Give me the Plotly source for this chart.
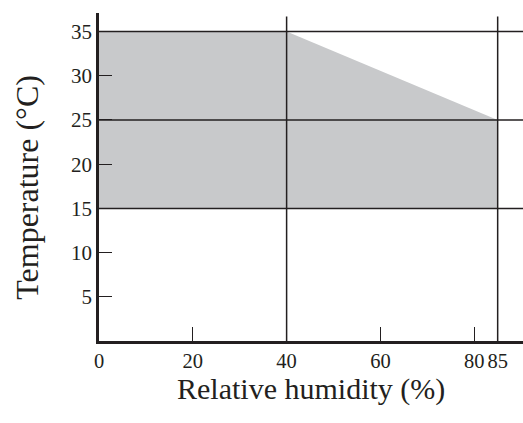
import plotly.graph_objects as go

# Data
region_humidity = [0, 0, 40, 85, 85, 0]
region_temp = [15, 35, 35, 25, 15, 15]
h_lines_temp = [15, 25, 35]
v_lines_humidity = [40, 85]
x_ticks = [0, 20, 40, 60, 80, 85]
y_ticks = [5, 10, 15, 20, 25, 30, 35]

INK = "#231f20"
FILL = "#c8c9cb"
FONT = "Liberation Serif"

fig = go.Figure()
fig.add_trace(go.Scatter(x=region_humidity, y=region_temp, fill="toself",
                         fillcolor=FILL, line=dict(width=0), mode="lines",
                         hoverinfo="skip", showlegend=False))

for t in h_lines_temp:
    fig.add_shape(type="line", xref="paper", x0=0, x1=1, yref="y", y0=t, y1=t,
                  line=dict(color=INK, width=1.5), layer="above")
for h in v_lines_humidity:
    fig.add_shape(type="line", xref="x", x0=h, x1=h, yref="y", y0=0, y1=36.7,
                  line=dict(color=INK, width=1.5), layer="above")

fig.update_layout(
    width=523, height=423,
    margin=dict(l=99, r=0, t=13, b=82),
    paper_bgcolor="white", plot_bgcolor="white",
    font=dict(family=FONT, color=INK, size=21),
    xaxis=dict(range=[0, 90.4], tickvals=x_ticks, ticktext=[str(v) for v in x_ticks],
               showgrid=False, zeroline=False, showline=True, linecolor=INK, linewidth=2.5,
               ticks="inside", ticklen=14, tickwidth=1.2, tickcolor=INK,
               tickfont=dict(family=FONT, size=20.5, color=INK)),
    yaxis=dict(range=[0, 37.1], tickvals=y_ticks, ticktext=[str(v) for v in y_ticks],
               showgrid=False, zeroline=False, showline=True, linecolor=INK, linewidth=2.5,
               ticks="inside", ticklen=13, tickwidth=1.2, tickcolor=INK,
               tickfont=dict(family=FONT, size=21, color=INK)),
    annotations=[
        dict(text="Relative humidity (%)", xref="paper", yref="paper", x=0.5, y=-0.147,
             showarrow=False, font=dict(family=FONT, size=30, color=INK),
             xanchor="center", yanchor="middle"),
        dict(text="Temperature (°C)", xref="paper", yref="paper", x=-0.17, y=0.47,
             showarrow=False, textangle=-90, font=dict(family=FONT, size=32, color=INK),
             xanchor="center", yanchor="middle"),
    ],
)

fig.write_html("out.html", config={"displayModeBar": False},
               post_script="document.body.style.margin='0';")
